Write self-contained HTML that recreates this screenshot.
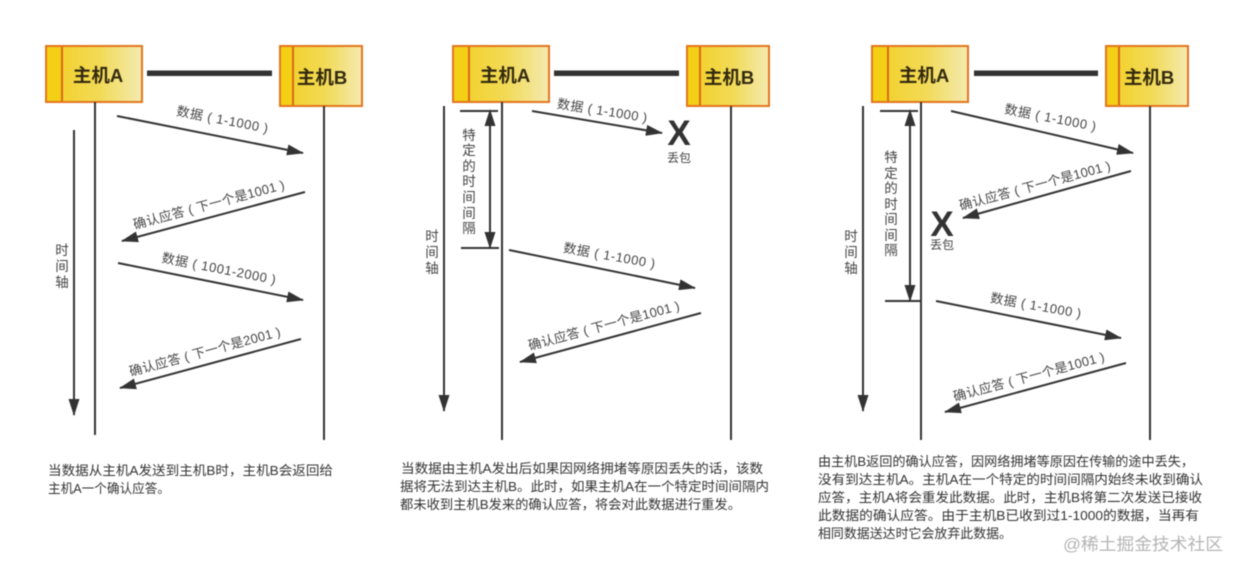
<!DOCTYPE html>
<html><head><meta charset="utf-8"><style>
html,body{margin:0;padding:0;background:#fff;width:1240px;height:572px;overflow:hidden}
svg{display:block;filter:blur(.45px)}
text{font-family:"Liberation Sans","Noto Sans CJK SC",sans-serif;fill:#3a3a3a;font-size:13px}
.t{font-size:13px;fill:#333}
.h{font-size:18.500px;font-weight:700;fill:#33290f;text-anchor:middle}
.l{fill:#444;text-anchor:middle;font-size:13px}
.v{fill:#444;text-anchor:middle;font-size:13.500px}
.x{font-size:35px;font-weight:700;fill:#333;text-anchor:middle}
.ln{stroke:#333;stroke-width:2;fill:none}
.box{stroke:#e2761f;stroke-width:2}
.dv{stroke:#d9681a;stroke-width:2}
</style></head><body>
<svg width="1240" height="572" viewBox="0 0 1240 572" xmlns="http://www.w3.org/2000/svg">
<defs>
<linearGradient id="g" x1="0" x2="1" y1="0" y2="0"><stop offset="0" stop-color="#f2cf22"/><stop offset=".55" stop-color="#f2da55"/><stop offset="1" stop-color="#f4eab0"/></linearGradient>
<marker id="m" markerUnits="userSpaceOnUse" markerWidth="18" markerHeight="12" refX="16" refY="6" orient="auto"><path d="M0 .5L17 6L0 11.500Z" fill="#333"/></marker>
<marker id="ms" markerUnits="userSpaceOnUse" markerWidth="18" markerHeight="12" refX="2" refY="6" orient="auto"><path d="M17 .5L0 6L17 11.500Z" fill="#333"/></marker>
</defs>

<!-- hosts 1 -->
<rect x="46" y="46" width="96" height="56" fill="url(#g)" class="box"/><rect x="47" y="47" width="15" height="54" fill="#f3d015"/><path d="M62 47V101" class="dv"/>
<text class="h" x="98" y="82">主机A</text>
<rect x="280" y="46" width="82" height="60" fill="url(#g)" class="box"/><rect x="281" y="47" width="13" height="58" fill="#f3d015"/><path d="M293 47V105" class="dv"/>
<text class="h" x="322" y="84">主机B</text>
<rect x="147" y="70.500" width="125" height="5.500" fill="#333"/>
<path class="ln" d="M95 102V435M324 106V440"/>
<path class="ln" d="M74 130V415" marker-end="url(#m)"/>
<path class="ln" d="M117 116L303 153" marker-end="url(#m)"/>
<path class="ln" d="M305 192L122 241" marker-end="url(#m)"/>
<path class="ln" d="M118 263L303 300" marker-end="url(#m)"/>
<path class="ln" d="M301 339L120 388" marker-end="url(#m)"/>
<text class="l" textLength="93" transform="translate(221.500 124) rotate(11)">数据 ( 1-1000 )</text>
<text class="l" textLength="156" transform="translate(210 209) rotate(-15)">确认应答 ( 下一个是1001 )</text>
<text class="l" textLength="116" transform="translate(218 273) rotate(11)">数据 ( 1001-2000 )</text>
<text class="l" textLength="156" transform="translate(206 356) rotate(-15)">确认应答 ( 下一个是2001 )</text>
<text class="v" x="62" y="255">时</text><text class="v" x="62" y="271">间</text><text class="v" x="62" y="287">轴</text>

<!-- hosts 2 -->
<rect x="453" y="46" width="96" height="56" fill="url(#g)" class="box"/><rect x="454" y="47" width="15" height="54" fill="#f3d015"/><path d="M469 47V101" class="dv"/>
<text class="h" x="505" y="82">主机A</text>
<rect x="687" y="46" width="82" height="60" fill="url(#g)" class="box"/><rect x="688" y="47" width="13" height="58" fill="#f3d015"/><path d="M700 47V105" class="dv"/>
<text class="h" x="729" y="84">主机B</text>
<rect x="554" y="70.500" width="125" height="5.500" fill="#333"/>
<path class="ln" d="M502 102V440M731 106V440"/>
<path class="ln" d="M444 106V411" marker-end="url(#m)"/>
<path class="ln" d="M460 111H498M461 248H499"/>
<path class="ln" d="M490 111V248" marker-start="url(#ms)" marker-end="url(#m)"/>
<path class="ln" d="M532 111L662 133" marker-end="url(#m)"/>
<path class="ln" d="M509 250L695 288" marker-end="url(#m)"/>
<path class="ln" d="M701 313L520 362" marker-end="url(#m)"/>
<text class="l" textLength="91" transform="translate(601.500 115) rotate(9)">数据 ( 1-1000 )</text>
<text class="x" x="679" y="145">X</text><text class="l" x="679" y="162" style="font-size:12px">丢包</text>
<text class="l" textLength="93" transform="translate(608.500 260) rotate(10)">数据 ( 1-1000 )</text>
<text class="l" textLength="156" transform="translate(605 330) rotate(-15)">确认应答 ( 下一个是1001 )</text>
<text class="v" x="469" y="140">特</text><text class="v" x="469" y="155">定</text><text class="v" x="469" y="171">的</text><text class="v" x="469" y="186">时</text><text class="v" x="469" y="202">间</text><text class="v" x="469" y="218">间</text><text class="v" x="469" y="233">隔</text>
<text class="v" x="432" y="241">时</text><text class="v" x="432" y="257">间</text><text class="v" x="432" y="273">轴</text>

<!-- hosts 3 -->
<rect x="872" y="46" width="96" height="56" fill="url(#g)" class="box"/><rect x="873" y="47" width="15" height="54" fill="#f3d015"/><path d="M888 47V101" class="dv"/>
<text class="h" x="924" y="82">主机A</text>
<rect x="1106" y="46" width="82" height="60" fill="url(#g)" class="box"/><rect x="1107" y="47" width="13" height="58" fill="#f3d015"/><path d="M1119 47V105" class="dv"/>
<text class="h" x="1149" y="84">主机B</text>
<rect x="974" y="70.500" width="124" height="5.500" fill="#333"/>
<path class="ln" d="M921 102V440M1150 106V440"/>
<path class="ln" d="M863 106V411" marker-end="url(#m)"/>
<path class="ln" d="M880 111H918M885 301H921"/>
<path class="ln" d="M910 111V301" marker-start="url(#ms)" marker-end="url(#m)"/>
<path class="ln" d="M951 111L1133 153" marker-end="url(#m)"/>
<path class="ln" d="M1131 171L963 218" marker-end="url(#m)"/>
<path class="ln" d="M936 301L1121 338" marker-end="url(#m)"/>
<path class="ln" d="M1126 363L945 412" marker-end="url(#m)"/>
<text class="l" textLength="93" transform="translate(1049.500 122) rotate(11)">数据 ( 1-1000 )</text>
<text class="l" textLength="156" transform="translate(1036 190) rotate(-15)">确认应答 ( 下一个是1001 )</text>
<text class="l" textLength="92" transform="translate(1035 310) rotate(10)">数据 ( 1-1000 )</text>
<text class="l" textLength="156" transform="translate(1030 381) rotate(-15)">确认应答 ( 下一个是1001 )</text>
<text class="x" x="942" y="236">X</text><text class="l" x="942" y="249" style="font-size:12px">丢包</text>
<text class="v" x="891" y="162">特</text><text class="v" x="891" y="178">定</text><text class="v" x="891" y="193">的</text><text class="v" x="891" y="209">时</text><text class="v" x="891" y="224">间</text><text class="v" x="891" y="240">间</text><text class="v" x="891" y="255">隔</text>
<text class="v" x="851" y="241">时</text><text class="v" x="851" y="257">间</text><text class="v" x="851" y="273">轴</text>

<!-- captions -->
<text class="t" x="48" y="475" textLength="285" lengthAdjust="spacingAndGlyphs">当数据从主机A发送到主机B时，主机B会返回给</text>
<text class="t" x="48" y="493" textLength="122" lengthAdjust="spacingAndGlyphs">主机A一个确认应答。</text>
<text class="t" x="401" y="473" textLength="362" lengthAdjust="spacingAndGlyphs">当数据由主机A发出后如果因网络拥堵等原因丢失的话，该数</text>
<text class="t" x="400" y="491" textLength="369" lengthAdjust="spacingAndGlyphs">据将无法到达主机B。此时，如果主机A在一个特定时间间隔内</text>
<text class="t" x="400" y="509" textLength="341" lengthAdjust="spacingAndGlyphs">都未收到主机B发来的确认应答，将会对此数据进行重发。</text>
<text class="t" x="818" y="466" textLength="376" lengthAdjust="spacingAndGlyphs">由主机B返回的确认应答，因网络拥堵等原因在传输的途中丢失，</text>
<text class="t" x="818" y="484" textLength="385" lengthAdjust="spacingAndGlyphs">没有到达主机A。主机A在一个特定的时间间隔内始终未收到确认</text>
<text class="t" x="818" y="502" textLength="384" lengthAdjust="spacingAndGlyphs">应答，主机A将会重发此数据。此时，主机B将第二次发送已接收</text>
<text class="t" x="818" y="520" textLength="381" lengthAdjust="spacingAndGlyphs">此数据的确认应答。由于主机B已收到过1-1000的数据，当再有</text>
<text class="t" x="818" y="538" textLength="194" lengthAdjust="spacingAndGlyphs">相同数据送达时它会放弃此数据。</text>
<text x="1063" y="550" textLength="160" lengthAdjust="spacingAndGlyphs" style="font-size:17px;fill:#b4b4b4">@稀土掘金技术社区</text>
</svg>
</body></html>
